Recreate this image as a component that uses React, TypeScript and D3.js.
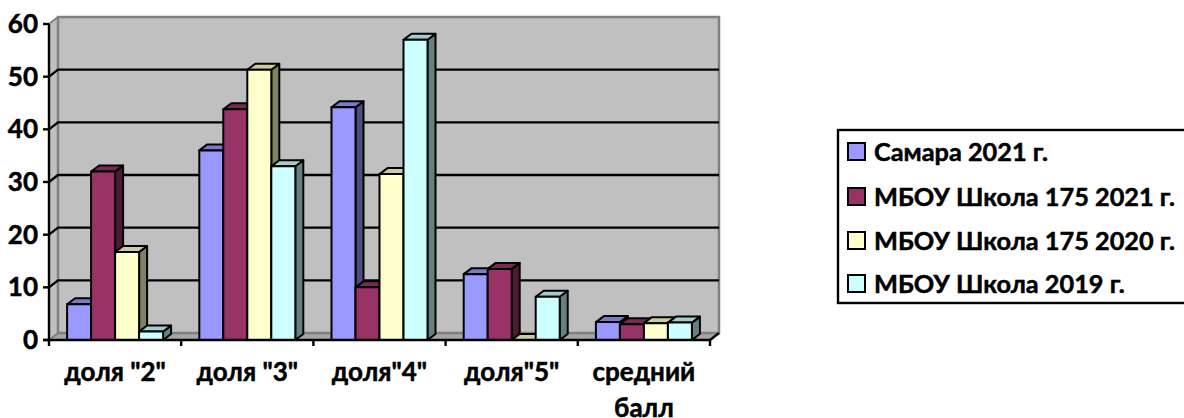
import React from "react";
import * as d3 from "d3";

const categories = ['доля "2"', 'доля "3"', 'доля"4"', 'доля"5"', "средний\nбалл"];
const seriesNames = ["Самара 2021 г.", "МБОУ Школа 175 2021 г.", "МБОУ Школа 175 2020 г.", "МБОУ Школа 2019 г."];
const samara2021 = [6.8, 36, 44.2, 12.5, 3.4];
const school2021 = [32, 43.8, 10, 13.5, 3];
const school2020 = [16.7, 51.3, 31.5, 0, 3.2];
const school2019 = [1.6, 33, 57, 8.2, 3.3];
const allSeries = [samara2021, school2021, school2020, school2019];
const colors = ["#9999ff", "#993366", "#ffffcc", "#ccffff"];
const yTicks = [0, 10, 20, 30, 40, 50, 60];

const FONT = "Lato, sans-serif";
const axisX0 = 49, axisX1 = 710, y0 = 340, y60 = 24;
const wallDx = 9, wallDy = 7;
const barDx = 8, barDy = 6;

const y = d3.scaleLinear().domain([0, 60]).range([y0, y60]);
const x = d3.scaleBand().domain(categories).range([axisX0, axisX1]);
const inner = d3.scaleBand<number>().domain([0, 1, 2, 3]).range([0, 96]);
const groupPad = (x.bandwidth() - 96) / 2;

const shade = (c: string, k: number) => {
  const r = d3.rgb(c);
  return d3.rgb(r.r * k, r.g * k, r.b * k).formatHex();
};

export default function App() {
  const legendYs = [152, 197, 241, 284];
  return (
    <svg width={1184} height={418} style={{ position: "absolute", left: 0, top: 0, background: "#fff" }}>
      {/* walls */}
      <polygon points={`${axisX0},${y0} ${axisX0 + wallDx},${y0 - wallDy} ${axisX1 + wallDx},${y0 - wallDy} ${axisX1},${y0}`} fill="#a6a6a6" />
      <polygon points={`${axisX0},${y60} ${axisX0 + wallDx},${y60 - wallDy} ${axisX0 + wallDx},${y0 - wallDy} ${axisX0},${y0}`} fill="#c0c0c0" />
      <rect x={axisX0 + wallDx} y={y60 - wallDy} width={axisX1 - axisX0} height={y0 - y60} fill="#c0c0c0" stroke="#808080" strokeWidth={2.5} />
      <line x1={axisX0} y1={y0} x2={axisX0 + wallDx} y2={y0 - wallDy} stroke="#808080" strokeWidth={2} />
      {/* gridlines */}
      {yTicks.slice(1, 6).map((t) => (
        <polyline key={t} fill="none" stroke="#000" strokeWidth={2.4}
          points={`${axisX0},${y(t)} ${axisX0 + wallDx},${y(t) - wallDy} ${axisX1 + wallDx},${y(t) - wallDy}`} />
      ))}
      <line x1={axisX0} y1={y60} x2={axisX0 + wallDx} y2={y60 - wallDy} stroke="#808080" strokeWidth={2} />
      {/* bars */}
      {categories.map((c, ci) => (
        <g key={c}>
          {allSeries.map((vals, si) => {
            const bx = (x(c) as number) + groupPad + (inner(si) as number);
            const bw = inner.bandwidth();
            const top = y(vals[ci]);
            return (
              <g key={si} stroke="#000" strokeWidth={2} strokeLinejoin="round">
                <polygon fill={shade(colors[si], 0.5)}
                  points={`${bx + bw},${top} ${bx + bw + barDx},${top - barDy} ${bx + bw + barDx},${y0 - barDy} ${bx + bw},${y0}`} />
                <polygon fill={shade(colors[si], 0.8)}
                  points={`${bx},${top} ${bx + barDx},${top - barDy} ${bx + bw + barDx},${top - barDy} ${bx + bw},${top}`} />
                <rect x={bx} y={top} width={bw} height={y0 - top} fill={colors[si]} />
              </g>
            );
          })}
        </g>
      ))}
      {/* axes */}
      <line x1={axisX0} y1={y60} x2={axisX0} y2={y0} stroke="#000" strokeWidth={2.4} />
      <polyline fill="none" stroke="#000" strokeWidth={2.4} points={`${axisX0 - 6},${y0} ${axisX1},${y0} ${axisX1 + wallDx},${y0 - wallDy}`} />
      {yTicks.map((t) => (
        <g key={t}>
          <line x1={axisX0 - 6} x2={axisX0} y1={y(t)} y2={y(t)} stroke="#000" strokeWidth={2.4} />
          <text x={38} y={y(t) + 9} textAnchor="end" fontFamily={FONT} fontWeight={700} fontSize={26} stroke="#000" strokeWidth={0.5} fill="#000">{t}</text>
        </g>
      ))}
      {categories.map((c) => {
        const cx = (x(c) as number) + x.bandwidth() / 2;
        return (
          <g key={c}>
            <line x1={(x(c) as number)} x2={(x(c) as number)} y1={y0} y2={y0 + 6} stroke="#000" strokeWidth={2.4} />
            {c.split("\n").map((part, i) => (
              <text key={i} x={cx} y={381 + i * 36} textAnchor="middle" fontFamily={FONT} fontWeight={700} fontSize={26} stroke="#000" strokeWidth={0.5} fill="#000">{part}</text>
            ))}
          </g>
        );
      })}
      <line x1={axisX1} x2={axisX1} y1={y0} y2={y0 + 6} stroke="#000" strokeWidth={2.4} />
      {/* legend */}
      <rect x={838} y={130} width={348} height={173} fill="#fff" stroke="#000" strokeWidth={2.4} />
      {seriesNames.map((n, i) => (
        <g key={n}>
          <rect x={848} y={legendYs[i] - 9} width={17} height={17} fill={colors[i]} stroke="#000" strokeWidth={2} />
          <text x={874} y={legendYs[i] + 8.5} fontFamily={FONT} fontWeight={700} fontSize={25.3} stroke="#000" strokeWidth={0.5} fill="#000">{n}</text>
        </g>
      ))}
    </svg>
  );
}
